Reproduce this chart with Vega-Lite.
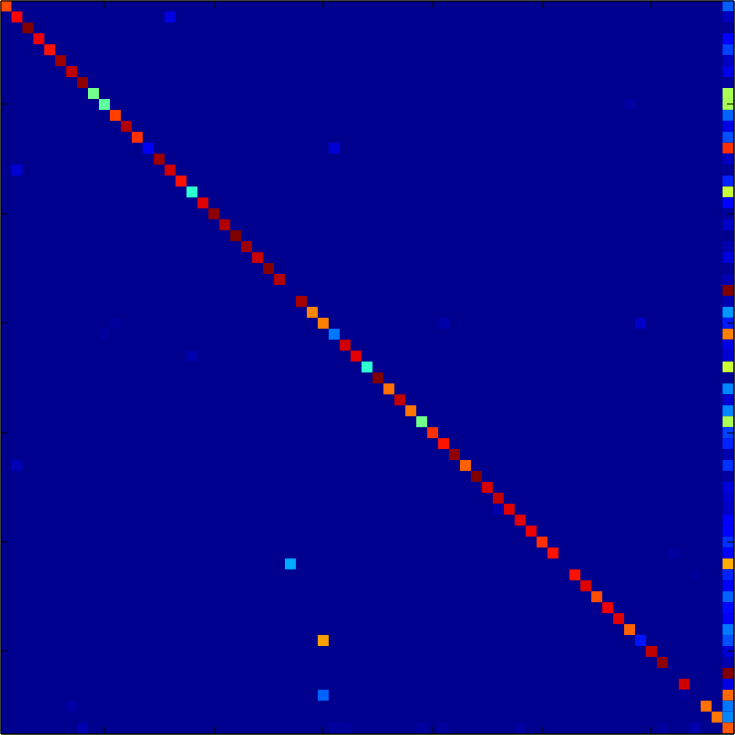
{"$schema":"https://vega.github.io/schema/vega-lite/v6.json","width":733,"height":733,"padding":{"left":0.5,"top":0.5,"right":1.5,"bottom":1.5},"autosize":{"type":"none"},"background":"white","view":{"fill":"#00008f","stroke":"black","strokeWidth":1},
"data":{"values":[
{"c":1,"r":1,"v":0.8},{"c":2,"r":2,"v":0.87},{"c":3,"r":3,"v":1},{"c":4,"r":4,"v":0.89},{"c":5,"r":5,"v":0.855},{"c":6,"r":6,"v":0.97},{"c":7,"r":7,"v":0.935},{"c":8,"r":8,"v":0.985},{"c":9,"r":9,"v":0.48},{"c":10,"r":10,"v":0.46},{"c":11,"r":11,"v":0.81},{"c":12,"r":12,"v":0.95},{"c":13,"r":13,"v":0.825},{"c":14,"r":14,"v":0.1},{"c":15,"r":15,"v":0.97},{"c":16,"r":16,"v":0.92},{"c":17,"r":17,"v":0.855},{"c":18,"r":18,"v":0.41},{"c":19,"r":19,"v":0.905},{"c":20,"r":20,"v":0.985},{"c":21,"r":21,"v":0.95},{"c":22,"r":22,"v":1},{"c":23,"r":23,"v":0.97},{"c":24,"r":24,"v":0.925},{"c":25,"r":25,"v":0.995},{"c":26,"r":26,"v":0.95},{"c":28,"r":28,"v":0.96},{"c":29,"r":29,"v":0.74},{"c":30,"r":30,"v":0.745},{"c":31,"r":31,"v":0.23},{"c":32,"r":32,"v":0.92},{"c":33,"r":33,"v":0.9},{"c":34,"r":34,"v":0.41},{"c":35,"r":35,"v":1},{"c":36,"r":36,"v":0.76},{"c":37,"r":37,"v":0.935},{"c":38,"r":38,"v":0.755},{"c":39,"r":39,"v":0.48},{"c":40,"r":40,"v":0.825},{"c":41,"r":41,"v":0.855},{"c":42,"r":42,"v":0.985},{"c":43,"r":43,"v":0.775},{"c":44,"r":44,"v":1},{"c":45,"r":45,"v":0.915},{"c":46,"r":46,"v":0.935},{"c":47,"r":47,"v":0.905},{"c":48,"r":48,"v":0.9},{"c":49,"r":49,"v":0.89},{"c":50,"r":50,"v":0.825},{"c":51,"r":51,"v":0.855},{"c":53,"r":53,"v":0.855},{"c":54,"r":54,"v":0.905},{"c":55,"r":55,"v":0.795},{"c":56,"r":56,"v":0.885},{"c":57,"r":57,"v":0.905},{"c":58,"r":58,"v":0.775},{"c":59,"r":59,"v":0.13},{"c":60,"r":60,"v":0.935},{"c":61,"r":61,"v":0.985},{"c":63,"r":63,"v":0.92},{"c":65,"r":65,"v":0.76},{"c":66,"r":66,"v":0.755},
{"c":16,"r":2,"v":0.08},{"c":31,"r":14,"v":0.07},{"c":2,"r":16,"v":0.07},{"c":58,"r":10,"v":0.02},{"c":41,"r":30,"v":0.025},{"c":59,"r":30,"v":0.055},{"c":11,"r":30,"v":0.012},{"c":10,"r":31,"v":0.012},{"c":18,"r":33,"v":0.03},{"c":2,"r":43,"v":0.04},{"c":27,"r":52,"v":0.28},{"c":30,"r":59,"v":0.715},{"c":30,"r":64,"v":0.21},{"c":62,"r":51,"v":0.015},{"c":64,"r":53,"v":0.01},{"c":63,"r":64,"v":0.012},{"c":61,"r":67,"v":0.015},{"c":64,"r":67,"v":0.03},{"c":7,"r":65,"v":0.02},{"c":8,"r":67,"v":0.03},{"c":31,"r":67,"v":0.015},{"c":32,"r":67,"v":0.015},{"c":39,"r":67,"v":0.015},{"c":41,"r":67,"v":0.012},{"c":48,"r":67,"v":0.015},{"c":46,"r":47,"v":0.03},
{"c":67,"r":1,"v":0.205},{"c":67,"r":2,"v":0.045},{"c":67,"r":3,"v":0.005},{"c":67,"r":4,"v":0.11},{"c":67,"r":5,"v":0.175},{"c":67,"r":6,"v":0.05},{"c":67,"r":7,"v":0.085},{"c":67,"r":8,"v":0.012},{"c":67,"r":9,"v":0.535},{"c":67,"r":10,"v":0.535},{"c":67,"r":11,"v":0.21},{"c":67,"r":12,"v":0.085},{"c":67,"r":13,"v":0.19},{"c":67,"r":14,"v":0.825},{"c":67,"r":15,"v":0.05},{"c":67,"r":16,"v":0.005},{"c":67,"r":17,"v":0.145},{"c":67,"r":18,"v":0.565},{"c":67,"r":19,"v":0.11},{"c":67,"r":20,"v":0.015},{"c":67,"r":21,"v":0.055},{"c":67,"r":23,"v":0.03},{"c":67,"r":24,"v":0.075},{"c":67,"r":25,"v":0.003},{"c":67,"r":26,"v":0.035},{"c":67,"r":27,"v":1},{"c":67,"r":28,"v":0.035},{"c":67,"r":29,"v":0.26},{"c":67,"r":30,"v":0.135},{"c":67,"r":31,"v":0.745},{"c":67,"r":32,"v":0.085},{"c":67,"r":33,"v":0.065},{"c":67,"r":34,"v":0.57},{"c":67,"r":35,"v":0.005},{"c":67,"r":36,"v":0.245},{"c":67,"r":37,"v":0.065},{"c":67,"r":38,"v":0.245},{"c":67,"r":39,"v":0.535},{"c":67,"r":40,"v":0.175},{"c":67,"r":41,"v":0.145},{"c":67,"r":42,"v":0.03},{"c":67,"r":43,"v":0.16},{"c":67,"r":44,"v":0.015},{"c":67,"r":45,"v":0.075},{"c":67,"r":46,"v":0.06},{"c":67,"r":47,"v":0.055},{"c":67,"r":48,"v":0.11},{"c":67,"r":49,"v":0.11},{"c":67,"r":50,"v":0.16},{"c":67,"r":51,"v":0.105},{"c":67,"r":52,"v":0.7},{"c":67,"r":53,"v":0.145},{"c":67,"r":54,"v":0.1},{"c":67,"r":55,"v":0.21},{"c":67,"r":56,"v":0.12},{"c":67,"r":57,"v":0.1},{"c":67,"r":58,"v":0.23},{"c":67,"r":59,"v":0.19},{"c":67,"r":60,"v":0.07},{"c":67,"r":61,"v":0.03},{"c":67,"r":62,"v":1},{"c":67,"r":63,"v":0.085},{"c":67,"r":64,"v":0.77},{"c":67,"r":65,"v":0.23},{"c":67,"r":66,"v":0.245},{"c":67,"r":67,"v":0.785}
]},
"params":[{"name":"cats","value":[1,2,3,4,5,6,7,8,9,10,11,12,13,14,15,16,17,18,19,20,21,22,23,24,25,26,27,28,29,30,31,32,33,34,35,36,37,38,39,40,41,42,43,44,45,46,47,48,49,50,51,52,53,54,55,56,57,58,59,60,61,62,63,64,65,66,67]}],
"layer":[
{"mark":{"type":"rect","stroke":null,"strokeWidth":0},
"encoding":{
"x":{"field":"c","type":"ordinal","scale":{"domain":{"expr":"cats"},"paddingInner":0,"paddingOuter":0},"axis":{"orient":"bottom","values":[10,20,30,40,50,60],"labels":false,"title":null,"tickSize":-7,"tickColor":"black","tickWidth":1,"domainColor":"black","domainWidth":1,"grid":false,"zindex":1}},
"y":{"field":"r","type":"ordinal","scale":{"domain":{"expr":"cats"},"paddingInner":0,"paddingOuter":0},"axis":{"orient":"left","values":[10,20,30,40,50,60],"labels":false,"title":null,"tickSize":-7,"tickColor":"black","tickWidth":1,"domainColor":"black","domainWidth":1,"grid":false,"zindex":1}},
"color":{"field":"v","type":"quantitative","legend":null,"scale":{"type":"linear","interpolate":"rgb","domain":[0,0.111,0.365,0.619,0.873,1],"range":["#00008f","#0000ff","#00ffff","#ffff00","#ff0000","#800000"],"clamp":true}}}},
{"mark":{"type":"rect","opacity":0},
"encoding":{
"x":{"field":"c","type":"ordinal","scale":{"domain":{"expr":"cats"},"paddingInner":0,"paddingOuter":0},"axis":{"orient":"top","values":[10,20,30,40,50,60],"labels":false,"title":null,"tickSize":-7,"tickColor":"black","tickWidth":1,"domainColor":"black","domainWidth":1,"grid":false,"zindex":1}},
"y":{"field":"r","type":"ordinal","scale":{"domain":{"expr":"cats"},"paddingInner":0,"paddingOuter":0},"axis":{"orient":"right","values":[10,20,30,40,50,60],"labels":false,"title":null,"tickSize":-7,"tickColor":"black","tickWidth":1,"domainColor":"black","domainWidth":1,"grid":false,"zindex":1}}}}
],
"resolve":{"axis":{"x":"independent","y":"independent"}}
}
